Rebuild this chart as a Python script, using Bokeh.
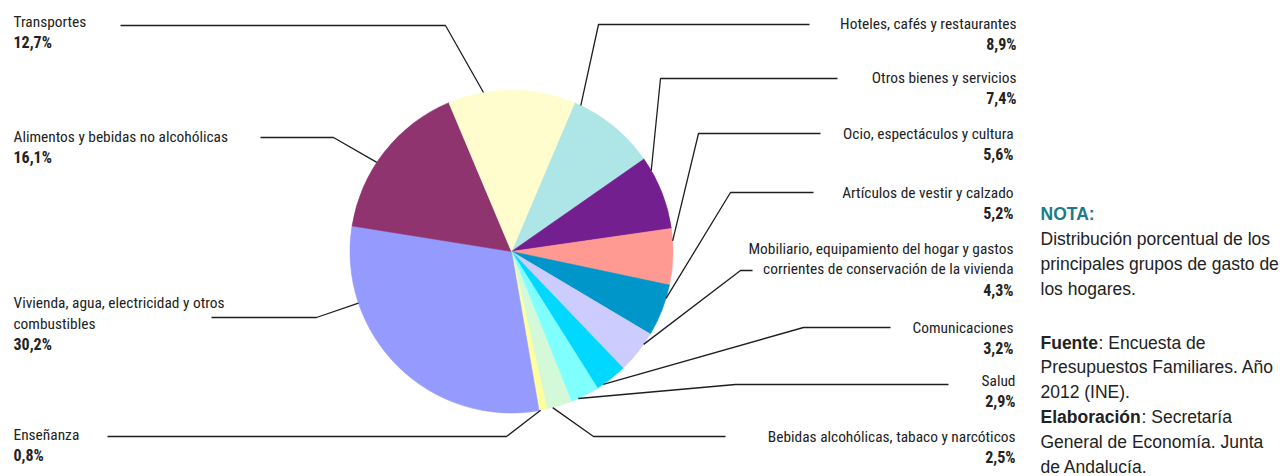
import math
from bokeh.plotting import figure
from bokeh.models import Range1d
from bokeh.core.properties import value
from bokeh.embed import file_html
from bokeh.resources import INLINE

# ---------------- data ----------------
categories = [
    "Hoteles, cafés y restaurantes",
    "Otros bienes y servicios",
    "Ocio, espectáculos y cultura",
    "Artículos de vestir y calzado",
    "Mobiliario, equipamiento del hogar y gastos\ncorrientes de conservación de la vivienda",
    "Comunicaciones",
    "Salud",
    "Bebidas alcohólicas, tabaco y narcóticos",
    "Enseñanza",
    "Vivienda, agua, electricidad y otros\ncombustibles",
    "Alimentos y bebidas no alcohólicas",
    "Transportes",
]
values = [8.9, 7.4, 5.6, 5.2, 4.3, 3.2, 2.9, 2.5, 0.8, 30.2, 16.1, 12.7]
colors = ["#AEE5E6", "#741F90", "#FF9A93", "#0096CA", "#CCCCFF", "#00D8FF",
          "#80FFFF", "#D3F9D9", "#FFFFA0", "#959AFF", "#903470", "#FFFDCE"]

note_lines = [
    ("NOTA:", ""),
    ("", "Distribución porcentual de los"),
    ("", "principales grupos de gasto de"),
    ("", "los hogares."),
    ("Fuente", ": Encuesta de"),
    ("", "Presupuestos Familiares. Año"),
    ("", "2012 (INE)."),
    ("Elaboración", ": Secretaría"),
    ("", "General de Economía. Junta"),
    ("", "de Andalucía."),
]

# ---------------- layout (reference pixel coordinates) ----------------
CX, CY, R = 511, 251, 161.5
START_DEG = 67
TEXT_DY = -7          # calibration of the text baseline
label_side = ["right"] * 8 + ["left"] * 4
label_x = [1016, 1016, 1013, 1013, 1013, 1013, 1015, 1015, 13, 13, 13, 13]
label_y = [30.5, 84, 140, 199.5, 255, 334, 387.5, 443.5, 441.5, 309.5, 143, 28.3]
line_end_x = [809, 837, 820, 813, 752, 890, 948, 725, 107, 211, 260, 120]
elbow_x = [598, 660, 698, 730, 740, 803, 735, 593, 506, 316, 333, 445]
elbow_y = [24, 78, 133, 192, 270, 327, 384, 436, 436, 317, 137, 25]
anchor_frac = [0.075, 0.18, 0.22, 0.26, 0.28, 0.79, 0.74, 0.77, 0.8, 0.745, 0.42, 0.28]
LINE_H = 20.8
note_x, note_bold_x2 = 1040, {"Fuente": 1098, "Elaboración": 1141}
note_y = [220, 245.5, 270, 295, 349, 373.8, 398.5, 423.5, 448.3, 473]

W, H = 1282, 476
p = figure(width=W, height=H, x_range=Range1d(0, W), y_range=Range1d(-H, 0),
           output_backend="svg", toolbar_location=None, min_border=0,
           x_axis_type=None, y_axis_type=None)
p.grid.visible = False
p.outline_line_color = None
p.background_fill_color = "white"
p.border_fill_color = "white"

# ---------------- pie ----------------
total = sum(values)
a0s, a1s = [], []
cum = 0.0
for v in values:
    a0 = math.radians(START_DEG) - cum / total * 2 * math.pi
    cum += v
    a1 = math.radians(START_DEG) - cum / total * 2 * math.pi
    a0s.append(a0)
    a1s.append(a1)

p.wedge(x=CX, y=-CY, radius=R, start_angle=a0s, end_angle=a1s, direction="clock",
        fill_color=colors, line_color=colors, line_width=0.6)

# ---------------- leader lines ----------------
xs, ys = [], []
for i in range(len(values)):
    a = a0s[i] - anchor_frac[i] * (a0s[i] - a1s[i])
    px = CX + R * math.cos(a)
    py = CY - R * math.sin(a)
    xs.append([line_end_x[i], elbow_x[i], px])
    ys.append([-elbow_y[i], -elbow_y[i], -py])
p.multi_line(xs, ys, line_color="#1e1e1e", line_width=1.3)

# ---------------- labels ----------------
LABEL_FONT = value("Roboto Condensed, DejaVu Sans Condensed, Liberation Sans")
for side in ("left", "right"):
    nx, ny, nt, bx, by, bt = [], [], [], [], [], []
    for i, c in enumerate(categories):
        if label_side[i] != side:
            continue
        lines = c.split("\n")
        for k, ln in enumerate(lines):
            nx.append(label_x[i]); ny.append(-(label_y[i] + k * LINE_H + TEXT_DY)); nt.append(ln)
        pct = ("%.1f" % values[i]).replace(".", ",") + "%"
        bx.append(label_x[i]); by.append(-(label_y[i] + len(lines) * LINE_H + TEXT_DY)); bt.append(pct)
    p.text(x=nx, y=ny, text=nt, text_align=side, text_baseline="alphabetic",
           text_font=LABEL_FONT, text_font_size="15.4px", text_color="#222222")
    p.text(x=bx, y=by, text=bt, text_align=side, text_baseline="alphabetic",
           text_font=LABEL_FONT, text_font_size="16px", text_font_style="bold",
           text_color="#222222")

# ---------------- note ----------------
NOTE_FONT = value("Liberation Sans")
for (b, n), y in zip(note_lines, note_y):
    yy = -(y + TEXT_DY)
    if b:
        col = "#1B7A8C" if b == "NOTA:" else "#222222"
        p.text(x=[note_x], y=[yy], text=[b], text_align="left", text_baseline="alphabetic",
               text_font=NOTE_FONT, text_font_size="17.5px", text_font_style="bold",
               text_color=col)
    if n:
        x = note_bold_x2.get(b, note_x)
        p.text(x=[x], y=[yy], text=[n], text_align="left", text_baseline="alphabetic",
               text_font=NOTE_FONT, text_font_size="17.5px", text_color="#222222")

open("out.html", "w").write(file_html(p, INLINE))
